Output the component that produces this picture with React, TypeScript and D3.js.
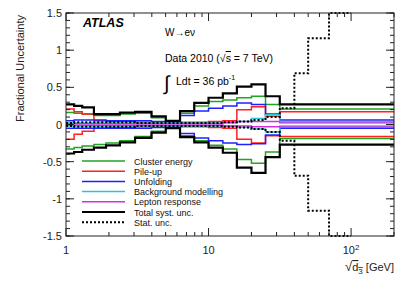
import React from "react";
import * as d3 from "d3";

// bin edges (GeV)
const sysEdges = [1, 1.14, 1.3, 1.57, 1.91, 2.39, 3.05, 3.98, 5.01, 6.31, 7.94, 10, 12.6, 15.8, 20, 25.1, 31.6, 200];
const statEdges = [1, 1.14, 1.3, 1.57, 1.91, 2.39, 3.05, 3.98, 5.01, 6.31, 7.94, 10, 12.6, 15.8, 20, 25.1, 31.6, 40, 50, 70, 100];

// fractional uncertainties per bin (up / down)
const clusterUp = [0.16, 0.15, 0.14, 0.12, 0.12, 0.14, 0.15, 0.09, 0.04, 0.15, 0.25, 0.31, 0.33, 0.36, 0.38, 0.27, 0.21];
const clusterDown = [-0.33, -0.31, -0.29, -0.27, -0.25, -0.22, -0.16, -0.09, -0.04, -0.15, -0.22, -0.28, -0.33, -0.47, -0.52, -0.37, -0.19];
const pileupUp = [0.21, 0.17, 0.14, 0.05, 0.04, 0.04, 0.03, 0.03, 0.02, 0.03, 0.03, 0.04, 0.05, 0.2, 0.24, 0.11, 0.17];
const pileupDown = [-0.2, -0.13, -0.09, -0.05, -0.04, -0.04, -0.03, -0.03, -0.02, -0.03, -0.03, -0.04, -0.05, -0.2, -0.25, -0.15, -0.16];
const unfoldUp = [0.05, 0.06, 0.06, 0.06, 0.05, 0.05, 0.05, 0.04, 0.03, 0.12, 0.18, 0.22, 0.25, 0.29, 0.27, 0.14, 0.06];
const unfoldDown = [-0.05, -0.05, -0.05, -0.05, -0.05, -0.05, -0.05, -0.04, -0.03, -0.12, -0.18, -0.22, -0.25, -0.27, -0.26, -0.14, -0.05];
const bkgUp = [0.02, 0.02, 0.02, 0.02, 0.02, 0.02, 0.02, 0.02, 0.02, 0.02, 0.02, 0.02, 0.02, 0.04, 0.08, 0.13, 0.02];
const bkgDown = [-0.02, -0.02, -0.02, -0.02, -0.02, -0.02, -0.02, -0.02, -0.02, -0.02, -0.02, -0.02, -0.02, -0.04, -0.06, -0.1, -0.02];
const leptonUp = [0.01, 0.01, 0.01, 0.01, 0.01, 0.01, 0.01, 0.01, 0.01, 0.01, 0.01, 0.01, 0.03, 0.04, 0.04, 0.04, 0.035];
const leptonDown = [-0.01, -0.01, -0.01, -0.01, -0.01, -0.01, -0.01, -0.01, -0.01, -0.01, -0.01, -0.01, -0.02, -0.02, -0.03, -0.03, -0.035];
const totalUp = [0.27, 0.25, 0.23, 0.14, 0.14, 0.16, 0.17, 0.11, 0.05, 0.18, 0.29, 0.36, 0.42, 0.51, 0.54, 0.38, 0.27];
const totalDown = [-0.39, -0.37, -0.34, -0.31, -0.28, -0.24, -0.18, -0.11, -0.05, -0.17, -0.24, -0.31, -0.38, -0.58, -0.65, -0.44, -0.27];
const statUp = [0.02, 0.03, 0.03, 0.03, 0.03, 0.03, 0.02, 0.02, 0.02, 0.02, 0.02, 0.02, 0.03, 0.04, 0.06, 0.1, 0.22, 0.69, 1.16, 1.6];
const statDown = [-0.02, -0.03, -0.03, -0.03, -0.03, -0.03, -0.02, -0.02, -0.02, -0.02, -0.02, -0.02, -0.03, -0.04, -0.06, -0.1, -0.22, -0.69, -1.16, -1.6];

const legendLabels = ["Cluster energy", "Pile-up", "Unfolding", "Background modelling", "Lepton response", "Total syst. unc.", "Stat. unc."];
const yTicks = [-1.5, -1, -0.5, 0, 0.5, 1, 1.5];
const yTickLabels = ["-1.5", "-1", "-0.5", "0", "0.5", "1", "1.5"];
const xTicks = [1, 10, 100];
const xTickBase = ["1", "10", "10"];
const xTickSup = ["", "", "2"];

const FONT = "'Liberation Sans', Arial, Helvetica, sans-serif";

export default function App() {
  const W = 415, H = 281;
  const L = 66, R = 394, T = 13, B = 236;
  const x = d3.scaleLog().domain([1, 200]).range([L, R]);
  const y = d3.scaleLinear().domain([-1.5, 1.5]).range([B, T]).clamp(true);

  const step = (edges: number[], vals: number[]) => {
    const pts: [number, number][] = vals.map((v, i) => [edges[i], v]);
    pts.push([edges[edges.length - 1], vals[vals.length - 1]]);
    return d3.line<[number, number]>().x(d => x(d[0])).y(d => y(d[1])).curve(d3.curveStepAfter)(pts) || "";
  };

  const series = [
    { edges: sysEdges, up: clusterUp, down: clusterDown, color: "#1fa51f", w: 1.5, dash: "" },
    { edges: sysEdges, up: pileupUp, down: pileupDown, color: "#ff2020", w: 1.5, dash: "" },
    { edges: sysEdges, up: unfoldUp, down: unfoldDown, color: "#2020ff", w: 1.5, dash: "" },
    { edges: sysEdges, up: bkgUp, down: bkgDown, color: "#20c8d0", w: 1.5, dash: "" },
    { edges: sysEdges, up: leptonUp, down: leptonDown, color: "#d030e0", w: 1.5, dash: "" },
    { edges: sysEdges, up: totalUp, down: totalDown, color: "#000000", w: 2.2, dash: "" },
    { edges: statEdges, up: statUp, down: statDown, color: "#000000", w: 2, dash: "2,2" },
  ];

  const yMinor = d3.range(-1.5, 1.5001, 0.1);
  const xMinor: number[] = [];
  for (const dec of [1, 10, 100]) for (let k = 2; k <= 9; k++) if (k * dec <= 200) xMinor.push(k * dec);

  const frame = "#222";
  const legY0 = 161, legDy = 10.2;

  return (
    <svg width={W} height={H} style={{ position: "absolute", left: 0, top: 0, background: "#fff" }} fontFamily={FONT}>
      <defs>
        <clipPath id="plotclip">
          <rect x={L} y={T - 1} width={R - L} height={B - T + 2} />
        </clipPath>
      </defs>
      <g clipPath="url(#plotclip)" fill="none">
        {series.map((s, i) => (
          <g key={i} stroke={s.color} strokeWidth={s.w} strokeDasharray={s.dash || undefined}>
            <path d={step(s.edges, s.up)} />
            <path d={step(s.edges, s.down)} />
          </g>
        ))}
      </g>
      {/* frame */}
      <rect x={L} y={T} width={R - L} height={B - T} fill="none" stroke={frame} strokeWidth={1} />
      {/* y ticks */}
      {yMinor.map((v, i) => (
        <g key={"ym" + i} stroke={frame} strokeWidth={1}>
          <line x1={L} x2={L + 4} y1={y(v)} y2={y(v)} />
          <line x1={R} x2={R - 4} y1={y(v)} y2={y(v)} />
        </g>
      ))}
      {yTicks.map((v, i) => (
        <g key={"yM" + i}>
          <line x1={L} x2={L + 8} y1={y(v)} y2={y(v)} stroke={frame} />
          <line x1={R} x2={R - 8} y1={y(v)} y2={y(v)} stroke={frame} />
          <text x={L - 4} y={y(v) + 4} textAnchor="end" fontSize={11} fill="#222">{yTickLabels[i]}</text>
        </g>
      ))}
      {/* x ticks */}
      {xMinor.map((v, i) => (
        <g key={"xm" + i} stroke={frame}>
          <line x1={x(v)} x2={x(v)} y1={B} y2={B - 4} />
          <line x1={x(v)} x2={x(v)} y1={T} y2={T + 4} />
        </g>
      ))}
      {xTicks.map((v, i) => (
        <g key={"xM" + i}>
          <line x1={x(v)} x2={x(v)} y1={B} y2={B - 8} stroke={frame} />
          <line x1={x(v)} x2={x(v)} y1={T} y2={T + 8} stroke={frame} />
          <text x={x(v)} y={B + 18} textAnchor="middle" fontSize={11} fill="#222">
            {xTickBase[i]}
            {xTickSup[i] && <tspan dy={-4} fontSize={8}>{xTickSup[i]}</tspan>}
          </text>
        </g>
      ))}
      {/* axis titles */}
      <text transform={`translate(${24},${T + 2}) rotate(-90)`} textAnchor="end" fontSize={11} fill="#222">Fractional Uncertainty</text>
      <text x={R} y={271} textAnchor="end" fontSize={11} fill="#222">
        <tspan fontSize={13}>√</tspan>
        <tspan style={{ textDecoration: "overline" }}>d</tspan>
        <tspan dy={3} fontSize={8} style={{ textDecoration: "overline" }}>3</tspan>
        <tspan dy={-3}> [GeV]</tspan>
      </text>
      {/* annotations */}
      <text x={83} y={27} fontSize={12.5} fontWeight="bold" fontStyle="italic" fill="#000">ATLAS</text>
      <text x={165} y={36} fontSize={10} fill="#000">W→eν</text>
      <text x={165} y={62} fontSize={10.5} fill="#000">Data 2010 (√<tspan style={{ textDecoration: "overline" }}>s</tspan> = 7 TeV)</text>
      <text x={164} y={90} fontSize={20} fill="#000">∫</text>
      <text x={176} y={85} fontSize={10.5} fill="#000">Ldt = 36 pb<tspan dy={-5} fontSize={7}>-1</tspan></text>
      {/* legend */}
      {legendLabels.map((lab, i) => {
        const s = series[i];
        const cy = legY0 + i * legDy;
        return (
          <g key={"lg" + i}>
            <line x1={82} x2={125} y1={cy} y2={cy} stroke={s.color} strokeWidth={s.w} strokeDasharray={s.dash || undefined} />
            <text x={134} y={cy + 3.5} fontSize={9} fill="#111">{lab}</text>
          </g>
        );
      })}
    </svg>
  );
}
